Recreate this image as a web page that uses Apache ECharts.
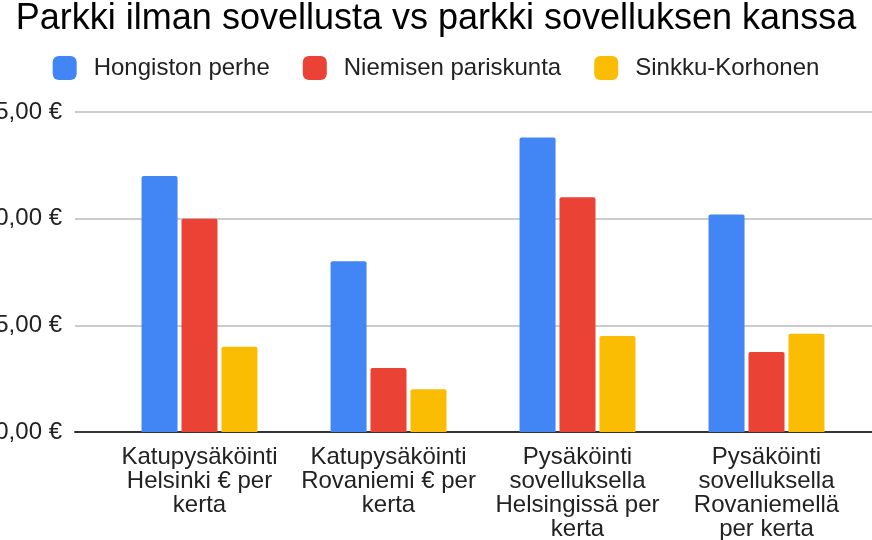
<!DOCTYPE html>
<html lang="fi">
<head>
    <meta charset="UTF-8">
    <title>Parkki</title>
    <script src="https://cdn.jsdelivr.net/npm/echarts@6/dist/echarts.min.js"></script>
    <style>
        html, body { margin: 0; padding: 0; background: #fff; }
        #main { width: 872px; height: 540px; }
    </style>
</head>
<body>
<div id="main"></div>
<script>
    var categories = [
        'Katupysäköinti\nHelsinki € per\nkerta',
        'Katupysäköinti\nRovaniemi € per\nkerta',
        'Pysäköinti\nsovelluksella\nHelsingissä per\nkerta',
        'Pysäköinti\nsovelluksella\nRovaniemellä\nper kerta'
    ];
    var seriesNames = ['Hongiston perhe', 'Niemisen pariskunta', 'Sinkku-Korhonen'];
    var hongiston = [12.0, 8.0, 13.8, 10.2];
    var niemisen = [10.0, 3.0, 11.0, 3.75];
    var sinkku = [4.0, 2.0, 4.5, 4.6];
    var colors = ['#4285F4', '#EA4335', '#FBBC04'];

    var font = 'Liberation Sans, Arial, sans-serif';
    var chart = echarts.init(document.getElementById('main'));

    function euro(v) {
        return v.toFixed(2).replace('.', ',') + ' €';
    }

    function bar(name, data, color) {
        return {
            name: name,
            type: 'bar',
            xAxisIndex: 1,
            yAxisIndex: 1,
            data: data,
            barWidth: 36,
            barGap: '11%',
            itemStyle: { color: color, borderRadius: [2, 2, 0, 0] }
        };
    }

    var option = {
        animation: false,
        color: colors,
        title: {
            text: 'Parkki ilman sovellusta vs parkki sovelluksen kanssa',
            left: 'center',
            top: 1,
            padding: 0,
            textStyle: { fontFamily: font, fontWeight: 'normal', fontSize: 36, color: '#000' }
        },
        legend: {
            top: 56,
            left: 'center',
            padding: 0,
            itemWidth: 24,
            itemHeight: 24,
            itemGap: 33,
            icon: 'roundRect',
            textStyle: { fontFamily: font, fontSize: 24, color: '#222', padding: [0, 0, 0, 12] },
            data: seriesNames
        },
        // grid 0 carries the gridlines and baseline over the full width,
        // grid 1 carries the bars over the narrower category band
        grid: [
            { left: 75, right: 0, top: 112, bottom: 108, containLabel: false, outerBoundsMode: 'none' },
            { left: 105, right: 11, top: 112, bottom: 108, containLabel: false, outerBoundsMode: 'none' }
        ],
        xAxis: [
            {
                type: 'value', gridIndex: 0, min: 0, max: 1,
                axisLine: { show: true, onZero: false, lineStyle: { color: '#333', width: 2 } },
                axisTick: { show: false }, axisLabel: { show: false }, splitLine: { show: false }
            },
            {
                type: 'category', gridIndex: 1, data: categories,
                axisLine: { show: false }, axisTick: { show: false },
                axisLabel: {
                    margin: 13, fontFamily: font, fontSize: 24, lineHeight: 24, color: '#222',
                    interval: 0, align: 'center'
                }
            }
        ],
        yAxis: [
            {
                type: 'value', gridIndex: 0, min: 0, max: 15, interval: 5,
                axisLine: { show: false }, axisTick: { show: false },
                axisLabel: { margin: 13, fontFamily: font, fontSize: 24, color: '#222', formatter: euro },
                splitLine: { lineStyle: { color: '#cccccc', width: 2 } }
            },
            {
                type: 'value', gridIndex: 1, min: 0, max: 15, interval: 5, show: false
            }
        ],
        series: [
            bar(seriesNames[0], hongiston, colors[0]),
            bar(seriesNames[1], niemisen, colors[1]),
            bar(seriesNames[2], sinkku, colors[2])
        ]
    };

    chart.setOption(option);
</script>
</body>
</html>
